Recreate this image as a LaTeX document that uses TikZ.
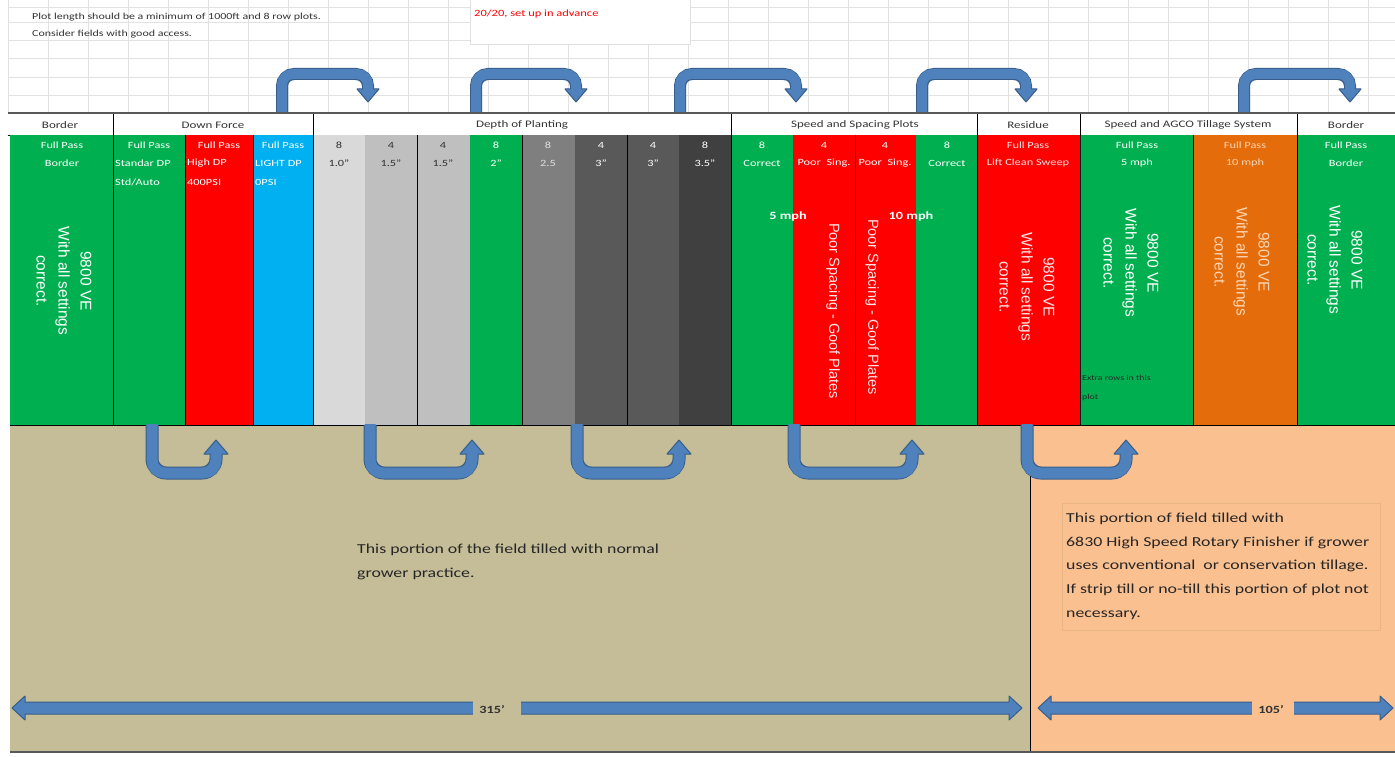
\documentclass[tikz,border=0pt]{standalone}
\usepackage{fontspec}
\setmainfont{Carlito}[FakeStretch=1.3]
\newfontfamily\arialf{Liberation Sans}
\definecolor{cgreen}{HTML}{00B050}
\definecolor{cred}{HTML}{FF0000}
\definecolor{cblue}{HTML}{00B0F0}
\definecolor{gA}{HTML}{D9D9D9}
\definecolor{gB}{HTML}{BFBFBF}
\definecolor{gC}{HTML}{7F7F7F}
\definecolor{gD}{HTML}{595959}
\definecolor{gE}{HTML}{404040}
\definecolor{corange}{HTML}{E46C0A}
\definecolor{ctan}{HTML}{C4BD97}
\definecolor{cpeach}{HTML}{FAC090}
\definecolor{ablue}{HTML}{4F81BD}
\definecolor{aout}{HTML}{385D8A}
\definecolor{gridc}{HTML}{E2E2E2}
\definecolor{ltorange}{HTML}{FCD5B4}
\definecolor{pinkw}{HTML}{FFE6E6}
\definecolor{darktxt}{HTML}{333333}
\definecolor{boxline}{HTML}{E9B486}
\newcommand\toparrow[2]{%
  \draw[aout, line width=12, rounded corners=12] (#1,113) -- (#1,74) -- (#2,74) -- (#2,89);
  \filldraw[fill=ablue, draw=aout, line width=1, line join=round] (#2-11,89) -- (#2+11,89) -- (#2,102) -- cycle;
  \draw[ablue, line width=10, rounded corners=11] (#1,114) -- (#1,74) -- (#2,74) -- (#2,90.5);
}
\newcommand\botarrow[2]{%
  \draw[aout, line width=13, rounded corners=14] (#1,425) -- (#1,473) -- (#2,473) -- (#2,454);
  \filldraw[fill=ablue, draw=aout, line width=1, line join=round] (#2-12,454) -- (#2+12,454) -- (#2,440) -- cycle;
  \draw[ablue, line width=11, rounded corners=13] (#1,424) -- (#1,473) -- (#2,473) -- (#2,452.5);
}
\newcommand\dblarrow[3]{% left tip, right tip, y
  \filldraw[fill=ablue, draw=aout, line width=1, line join=round]
    (#1,#3) -- (#1+13,#3-12) -- (#1+13,#3-6) -- (#2-13,#3-6) -- (#2-13,#3-12) -- (#2,#3)
    -- (#2-13,#3+12) -- (#2-13,#3+6) -- (#1+13,#3+6) -- (#1+13,#3+12) -- cycle;
}
\begin{document}
\begin{tikzpicture}[x=1pt,y=-1pt,
  colbox/.style={inner sep=0pt, outer sep=0pt, anchor=north west, minimum height=290pt},
  ctext/.style={font=\fontsize{9.5}{11}\selectfont, inner sep=0pt, text=white},
  htext/.style={font=\fontsize{10}{12}\selectfont, inner sep=0pt, text=darktxt},
  rot/.style={rotate=-90, align=center, inner sep=0pt, font=\arialf\fontsize{15.5}{22}\selectfont},
  rottwo/.style={rotate=-90, inner sep=0pt, font=\arialf\fontsize{14.5}{17}\selectfont, text=pinkw},
  note/.style={font=\fontsize{13.7}{23.6}\selectfont, align=left, inner sep=0pt, text=black!85}]
\useasboundingbox (0,0) rectangle (1395,757);
\fill[white] (0,0) rectangle (1395,757);
% spreadsheet grid
\foreach \gy in {7,22,40,58,77,95} \draw[gridc, line width=0.8] (8,\gy) -- (1395,\gy);
\foreach \gx in {8,48,88,128,168,208,248,288,328,368,408,448,488,528,568,608,648,688,728,768,808,848,888,928,968,1008,1048,1088,1128,1168,1208,1248,1288,1328,1368}
  \draw[gridc, line width=0.8] (\gx,0) -- (\gx,113);
% top notes
\node[anchor=west, font=\fontsize{9.2}{11}\selectfont, text=darktxt, inner sep=0pt] (n1) at (32,17) {Plot length should be a minimum of 1000ft and 8 row plots.};
\node[anchor=west, font=\fontsize{9.2}{11}\selectfont, text=darktxt, inner sep=0pt] (n2) at (32,34) {Consider fields with good access.};
\node[anchor=north west, fill=white, draw=black!12, minimum width=220pt, minimum height=45pt, inner sep=0pt] (box20) at (470,-1) {};
\node[anchor=west, font=\fontsize{9.6}{11}\selectfont, text=cred, inner sep=0pt] (n3) at (474,14) {20/20, set up in advance};
% top arrows
\toparrow{282}{368}
\toparrow{476}{576}
\toparrow{680}{796}
\toparrow{922}{1026}
\toparrow{1244}{1350}
% header row
\fill[white] (8,114) rectangle (1395,135);
\draw[gD, line width=2.5] (8,113) -- (1395,113);
\draw[black, line width=0.8] (8,135) -- (1395,135);
\foreach \hx in {113,313,731,977,1080,1297} \draw[black, line width=1] (\hx,114) -- (\hx,135);
\node[htext] (h1) at (60,125) {Border};
\node[htext] (h2) at (213,125) {Down Force};
\node[htext] (h3) at (522,125) {Depth of Planting};
\node[htext] (h4) at (855,125) {Speed and Spacing Plots};
\node[htext] (h5) at (1028,125) {Residue};
\node[htext] (h6) at (1188,125) {Speed and AGCO Tillage System};
\node[htext] (h7) at (1346,125) {Border};
% columns
\foreach \i/\a/\b/\c in {1/10/113/cgreen, 2/113/185/cgreen, 3/185/253/cred, 4/253/313/cblue,
  5/313/365/gA, 6/365/417/gB, 7/417/470/gB, 8/470/522/cgreen, 9/522/575/gC, 10/575/627/gD,
  11/627/679/gD, 12/679/731/gE, 13/731/793/cgreen, 14/793/855/cred, 15/855/916/cred,
  16/916/977/cgreen, 17/977/1080/cred, 18/1080/1193/cgreen, 19/1193/1297/corange, 20/1297/1395/cgreen}{
  \pgfmathsetmacro\w{\b-\a}
  \node[colbox, fill=\c, minimum width=\w pt] (col\i) at (\a,135) {};
}
\foreach \vx in {113,185,253,313,417,522,627,731,855,977,1080,1193,1297} \draw[black, line width=1] (\vx,135) -- (\vx,425);
% column texts
\node[ctext] at (62,145) {Full Pass}; \node[ctext] at (62,163) {Border};
\node[ctext] at (149,145) {Full Pass}; \node[ctext, anchor=west] at (115,163) {Standar DP}; \node[ctext, anchor=west] at (115,182) {Std/Auto};
\node[ctext] at (219,145) {Full Pass}; \node[ctext, anchor=west] at (187,163) {High DP}; \node[ctext, anchor=west] at (187,182) {400PSI};
\node[ctext] at (283,145) {Full Pass}; \node[ctext, anchor=west] at (255,163) {LIGHT DP}; \node[ctext, anchor=west] at (255,182) {0PSI};
\node[ctext, text=darktxt] at (339,145) {8}; \node[ctext, text=darktxt] at (339,163) {1.0"};
\node[ctext, text=darktxt] at (391,145) {4}; \node[ctext, text=darktxt] at (391,163) {1.5"};
\node[ctext, text=darktxt] at (443,145) {4}; \node[ctext, text=darktxt] at (443,163) {1.5"};
\node[ctext] at (496,145) {8}; \node[ctext] at (496,163) {2"};
\node[ctext, text=black!12] at (548,145) {8}; \node[ctext, text=black!12] at (548,163) {2.5};
\node[ctext] at (601,145) {4}; \node[ctext] at (601,163) {3"};
\node[ctext] at (653,145) {4}; \node[ctext] at (653,163) {3"};
\node[ctext] at (705,145) {8}; \node[ctext] at (705,163) {3.5"};
\node[ctext] at (762,145) {8}; \node[ctext] at (762,163) {Correct};
\node[ctext] at (824,145) {4}; \node[ctext] at (824,163) {Poor~~Sing.};
\node[ctext] at (885,145) {4}; \node[ctext] at (885,163) {Poor~~Sing.};
\node[ctext] at (947,145) {8}; \node[ctext] at (947,163) {Correct};
\node[ctext, text=pinkw] at (1028,145) {Full Pass}; \node[ctext, text=pinkw] at (1028,163) {Lift Clean Sweep};
\node[ctext] at (1137,145) {Full Pass}; \node[ctext] at (1137,163) {5 mph};
\node[ctext, text=ltorange] at (1245,145) {Full Pass}; \node[ctext, text=ltorange] at (1245,163) {10 mph};
\node[ctext] at (1346,145) {Full Pass}; \node[ctext] at (1346,163) {Border};
% rotated texts
\node[rot, text=white] (r1) at (64,281) {9800 VE\\With all settings\\correct.};
\node[rot, text=pinkw] (r17) at (1027,287) {9800 VE\\With all settings\\correct.};
\node[rot, text=white] (r18) at (1131,263) {9800 VE\\With all settings\\correct.};
\node[rot, text=ltorange] (r19) at (1242,262) {9800 VE\\With all settings\\correct.};
\node[rot, text=white] (r20) at (1335,260) {9800 VE\\With all settings\\correct.};
\node[rottwo] (p14) at (833,311) {Poor Spacing - Goof Plates};
\node[rottwo] (p15) at (872,307) {Poor Spacing - Goof Plates};
\node[font=\bfseries\fontsize{11}{13}\selectfont, text=white, inner sep=0pt] (s5) at (788,217) {5 mph};
\node[font=\bfseries\fontsize{11}{13}\selectfont, text=white, inner sep=0pt] (s10) at (911,217) {10 mph};
\node[anchor=west, align=left, font=\fontsize{7.6}{19}\selectfont, text=black!85, inner sep=0pt] (extra) at (1082,388) {Extra rows in this\\plot};
% lower field
\fill[ctan] (10,425) rectangle (1030,752);
\fill[cpeach] (1030,425) rectangle (1395,752);
\draw[black, line width=1] (1030,425) -- (1030,752);
\draw[gD, line width=1.5] (10,752) -- (1395,752);
\draw[black, line width=1] (10,425) -- (1395,425);
% bottom arrows
\botarrow{152}{216}
\botarrow{370}{472}
\botarrow{577}{679}
\botarrow{794}{912}
\botarrow{1027}{1126}
% notes
\node[note, anchor=north west] (left note) at (357,544) {This portion of the field tilled with normal\\grower practice.};
\node[draw=boxline, anchor=north west, minimum width=318pt, minimum height=127pt, inner sep=0pt] (rbox) at (1062,503) {};
\node[note, anchor=north west] (right note) at (1066,513) {This portion of field tilled with\\6830 High Speed Rotary Finisher if grower\\uses conventional~ or conservation tillage.\\If strip till or no-till this portion of plot not\\necessary.};
% dimension arrows
\dblarrow{12}{1022}{708}
\dblarrow{1038}{1393}{708}
\node[fill=ctan, minimum width=48pt, minimum height=20pt, inner sep=0pt] (d1) at (497,708) {};
\node[font=\bfseries\fontsize{11}{13}\selectfont, text=black!80, inner sep=0pt] at (492,710) {315'};
\node[fill=cpeach, minimum width=42pt, minimum height=20pt, inner sep=0pt] (d2) at (1273,708) {};
\node[font=\bfseries\fontsize{11}{13}\selectfont, text=black!80, inner sep=0pt] at (1271,710) {105'};
\end{tikzpicture}
\end{document}
